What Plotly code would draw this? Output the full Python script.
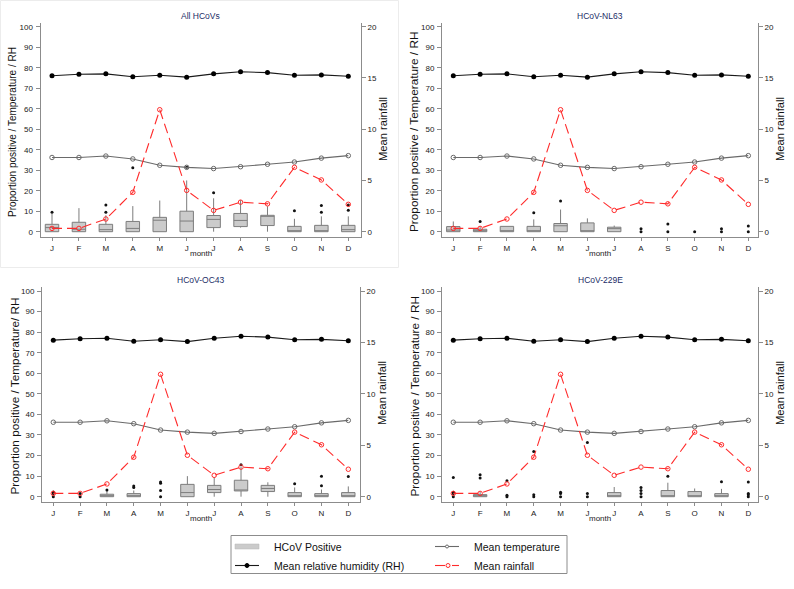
import plotly.graph_objects as go

W, H = 794, 589

# ---------------- data ----------------
month_labels = ["J", "F", "M", "A", "M", "J", "J", "A", "S", "O", "N", "D"]
month_num = list(range(1, 13))

rh = [76.1, 76.8, 77.0, 75.6, 76.3, 75.4, 77.0, 78.0, 77.6, 76.3, 76.5, 75.8]
temperature = [36.2, 36.2, 36.9, 35.5, 32.4, 31.4, 30.8, 31.7, 32.9, 34.0, 35.9, 37.1]
rainfall = [0.32, 0.32, 1.24, 3.84, 11.9, 4.03, 2.08, 2.88, 2.72, 6.28, 5.05, 2.67]

# All HCoVs
all_x = [1, 2, 3, 4, 5, 6, 7, 8, 9, 10, 11, 12]
all_q1 = [0, 0, 0, 0, 0, 0, 2, 2.5, 3, 0, 0, 0]
all_med = [2, 1.2, 1, 1.6, 5.6, 5.2, 6, 5.5, 7.5, 0, 0.5, 1]
all_q3 = [3.6, 4.6, 3.6, 5, 7, 10, 7.9, 8.9, 8, 2.6, 3.1, 3.1]
all_lo = [0, 0, 0, 0, 0, 0, 0, 2, 0, 0, 0, 0]
all_hi = [8.7, 11.5, 8, 12.5, 15.2, 25, 16.3, 15.4, 12.4, 6.3, 7.5, 7.5]
all_out_x = [1, 3, 3, 4, 6, 7, 10, 11, 11, 12, 12]
all_out_y = [9.5, 9.5, 13, 31.2, 31.5, 19, 10.2, 9.5, 12.8, 10.5, 13]

# HCoV-NL63
nl63_x = [1, 2, 3, 4, 5, 6, 7]
nl63_q1 = [0, 0, 0, 0, 0, 0, 0]
nl63_med = [0.8, 0, 0, 0, 2.9, 0, 1.5]
nl63_q3 = [2.5, 1.2, 2.6, 2.6, 4, 4.3, 2.2]
nl63_lo = [0, 0, 0, 0, 0, 0, 0]
nl63_hi = [5, 2.7, 2.6, 6, 10.8, 6.5, 3]
nl63_out_x = [2, 4, 5, 8, 8, 9, 9, 10, 11, 11, 12, 12]
nl63_out_y = [5, 9.3, 15, 0, 1.5, 0, 3.7, 0, 0, 1.5, 0, 2.8]

# HCoV-OC43
oc43_x = [3, 4, 6, 7, 8, 9, 10, 11, 12]
oc43_q1 = [0, 0, 0, 2, 2.8, 2.5, 0, 0, 0]
oc43_med = [0.5, 0.5, 2, 3.5, 3, 4, 0, 0, 0.3]
oc43_q3 = [1.2, 1.5, 6, 5.5, 8, 5.5, 2, 1.5, 2]
oc43_lo = [0, 0, 0, 0, 0, 0, 0, 0, 0]
oc43_hi = [3, 3, 10, 9.5, 14.5, 7, 4.5, 3.5, 5]
oc43_out_x = [1, 1, 1, 2, 2, 3, 4, 4, 5, 5, 5, 5, 8, 10, 11, 11, 12]
oc43_out_y = [0, 1.5, 2.3, 0, 1.5, 3.3, 4.5, 5.2, 0, 3, 6.5, 7.2, 15.5, 6.3, 5.3, 9.9, 9.8]

# HCoV-229E
e229_x = [2, 7, 9, 10, 11]
e229_q1 = [0, 0, 0, 0, 0]
e229_med = [0.3, 0, 0, 0, 0]
e229_q3 = [1, 2, 3, 2.5, 1.5]
e229_lo = [0, 0, 0, 0, 0]
e229_hi = [2.5, 4.7, 6.8, 4, 3.8]
e229_out_x = [1, 1, 1, 1, 2, 2, 3, 3, 3, 4, 4, 4, 5, 5, 5, 6, 6, 6, 8, 8, 8, 8, 9, 11, 12, 12, 12, 12]
e229_out_y = [0, 1.5, 2.2, 9.3, 9.1, 10.7, 0, 0.7, 7.8, 0, 1, 22, 0, 1.5, 2.2, 0, 1.5, 26.4,
              0, 1.5, 3, 4.5, 10, 7.3, 0, 1, 1.5, 7.1]

panel_titles = ["All HCoVs", "HCoV-NL63", "HCoV-OC43", "HCoV-229E"]
left_titles = ["Proportion positive / Temperature / RH",
               "Proportion positive / Temperature / RH",
               "Proportion positive / Temperature/ RH",
               "Proportion positive / Temperature / RH"]
right_title = "Mean rainfall"
x_title = "month"
legend_labels = ["HCoV Positive", "Mean relative humidity (RH)", "Mean temperature", "Mean rainfall"]

boxes = [
    (all_x, all_q1, all_med, all_q3, all_lo, all_hi, all_out_x, all_out_y),
    (nl63_x, nl63_q1, nl63_med, nl63_q3, nl63_lo, nl63_hi, nl63_out_x, nl63_out_y),
    (oc43_x, oc43_q1, oc43_med, oc43_q3, oc43_lo, oc43_hi, oc43_out_x, oc43_out_y),
    (e229_x, e229_q1, e229_med, e229_q3, e229_lo, e229_hi, e229_out_x, e229_out_y),
]

# ---------------- layout geometry (pixels) ----------------
# (left axis px, right axis px, J px, D px, top px, bottom px, y0 px, y100 px)
geom = [
    (40.5, 361, 52, 348.3, 23, 237, 231.7, 26.7),
    (442, 758, 453.3, 748.3, 23, 237, 231.7, 26.7),
    (42, 360, 53.3, 348.3, 287, 502, 496.7, 291.0),
    (442, 758, 453.3, 748.3, 287, 502, 496.7, 291.0),
]

FONT = "Liberation Sans, Arial, sans-serif"
TICKC = "#222222"
AXC = "#8c8c8c"
TICKSIZE = 8

def px(x):
    return x / W

def py(y):
    return 1 - y / H

fig = go.Figure()
layout = dict(
    width=W, height=H, margin=dict(l=0, r=0, t=0, b=0),
    paper_bgcolor="white", plot_bgcolor="white", showlegend=False,
    font=dict(family=FONT, color=TICKC, size=TICKSIZE),
)
annotations = []
shapes = []

for k in range(4):
    L, R, Jp, Dp, T, B, y0p, y100p = geom[k]
    step = (Dp - Jp) / 11
    xr = [1 - (Jp - L) / step, 12 + (R - Dp) / step]
    ppu = (y0p - y100p) / 100
    yr = [-(B - y0p) / ppu, 100 + (y100p - T) / ppu]
    yr2 = [yr[0] / 5, yr[1] / 5]

    xa = "x" if k == 0 else f"x{k+1}"
    ya = "y" if k == 0 else f"y{2*k+1}"
    yb = f"y{2*k+2}"
    xkey = "xaxis" if k == 0 else f"xaxis{k+1}"
    ykey = "yaxis" if k == 0 else f"yaxis{2*k+1}"
    ykey2 = f"yaxis{2*k+2}"

    layout[xkey] = dict(
        domain=[px(L), px(R)], range=xr, anchor=ya,
        tickmode="array", tickvals=month_num, ticktext=month_labels,
        showline=True, linecolor=AXC, linewidth=1, ticks="outside", ticklen=3,
        tickcolor=AXC, showgrid=False, zeroline=False, fixedrange=True,
        tickfont=dict(size=TICKSIZE, color=TICKC, family=FONT),
    )
    layout[ykey] = dict(
        domain=[py(B), py(T)], range=yr, anchor=xa, side="left",
        tickmode="array", tickvals=list(range(0, 101, 10)),
        showline=True, linecolor=AXC, linewidth=1, ticks="outside", ticklen=4,
        tickcolor=AXC, showgrid=False, zeroline=False, fixedrange=True,
        ticklabelstandoff=1,
        tickfont=dict(size=TICKSIZE, color=TICKC, family=FONT),
    )
    layout[ykey2] = dict(
        overlaying=ya, side="right", anchor=xa, range=yr2,
        tickmode="array", tickvals=[0, 5, 10, 15, 20],
        showline=True, linecolor=AXC, linewidth=1, ticks="outside", ticklen=4,
        tickcolor=AXC, showgrid=False, zeroline=False, fixedrange=True,
        ticklabelstandoff=0,
        tickfont=dict(size=TICKSIZE, color=TICKC, family=FONT),
    )

    bx, q1, med, q3, lo, hi, ox, oy = boxes[k]
    fig.add_trace(go.Box(
        x=bx, q1=q1, median=med, q3=q3, lowerfence=lo, upperfence=hi,
        width=0.5, whiskerwidth=0, boxpoints=False,
        fillcolor="#cbcbcb", line=dict(color="#7d7d7d", width=1),
        xaxis=xa, yaxis=ya,
    ))
    fig.add_trace(go.Scatter(
        x=ox, y=oy, mode="markers",
        marker=dict(color="#111111", size=3, line=dict(width=0)),
        xaxis=xa, yaxis=ya,
    ))
    fig.add_trace(go.Scatter(
        x=month_num, y=temperature, mode="lines+markers",
        line=dict(color="#6a6a6a", width=1.1),
        marker=dict(symbol="circle-open", color="#6a6a6a", size=4.5, line=dict(width=1)),
        xaxis=xa, yaxis=ya,
    ))
    fig.add_trace(go.Scatter(
        x=month_num, y=rh, mode="lines+markers",
        line=dict(color="#1a1a1a", width=1.1),
        marker=dict(symbol="circle", color="#000000", size=5),
        xaxis=xa, yaxis=ya,
    ))
    fig.add_trace(go.Scatter(
        x=month_num, y=rainfall, mode="lines+markers",
        line=dict(color="#ff2b2b", width=1.1, dash="10px,5px"),
        marker=dict(symbol="circle-open", color="#ff2b2b", size=4.5, line=dict(width=1)),
        xaxis=xa, yaxis=yb,
    ))

    cx = (L + R) / 2
    title_y = 16 if k < 2 else 280
    annotations.append(dict(
        text=panel_titles[k], x=px(cx), y=py(title_y), xref="paper", yref="paper",
        showarrow=False, xanchor="center", yanchor="middle",
        font=dict(size=8.5, color="#1c2c66", family=FONT),
    ))
    annotations.append(dict(
        text=x_title, x=px(cx), y=py(B + 16.5), xref="paper", yref="paper",
        showarrow=False, xanchor="center", yanchor="middle",
        font=dict(size=8, color=TICKC, family=FONT),
    ))
    lt_size = 10 if k == 0 else 11.8
    lt_x = L - 28.5 if k == 0 else L - 28
    annotations.append(dict(
        text=left_titles[k], x=px(lt_x), y=py((T + B) / 2 + 2), xref="paper", yref="paper",
        showarrow=False, textangle=-90, xanchor="center", yanchor="middle",
        font=dict(size=lt_size, color="#111111", family=FONT),
    ))
    annotations.append(dict(
        text=right_title, x=px(R + 22), y=py(129 if k < 2 else 393), xref="paper", yref="paper",
        showarrow=False, textangle=-90, xanchor="center", yanchor="middle",
        font=dict(size=11.2, color="#111111", family=FONT),
    ))

# faint frame around the first panel
shapes.append(dict(type="rect", xref="paper", yref="paper",
                   x0=px(0.5), x1=px(398.5), y0=py(267.5), y1=py(0.5),
                   line=dict(color="#ececec", width=1)))

# ---------------- legend ----------------
shapes.append(dict(type="rect", xref="paper", yref="paper",
                   x0=px(231), x1=px(567), y0=py(573.5), y1=py(535.5),
                   line=dict(color="#8c8c8c", width=1), fillcolor="white"))
r1, r2 = 546.5, 565.5
# box icon
shapes.append(dict(type="rect", xref="paper", yref="paper",
                   x0=px(235), x1=px(259), y0=py(r1 + 2.5), y1=py(r1 - 2.5),
                   line=dict(color="#b5b5b5", width=0.5), fillcolor="#cbcbcb"))
# RH icon
shapes.append(dict(type="line", xref="paper", yref="paper",
                   x0=px(235), x1=px(259), y0=py(r2), y1=py(r2),
                   line=dict(color="#1a1a1a", width=1.1)))
shapes.append(dict(type="circle", xref="paper", yref="paper",
                   x0=px(245), x1=px(249), y0=py(r2 + 2), y1=py(r2 - 2),
                   line=dict(color="#000000", width=1), fillcolor="#000000"))
# temperature icon
shapes.append(dict(type="line", xref="paper", yref="paper",
                   x0=px(435), x1=px(459), y0=py(r1), y1=py(r1),
                   line=dict(color="#6a6a6a", width=1.1)))
shapes.append(dict(type="circle", xref="paper", yref="paper",
                   x0=px(445.5), x1=px(448.5), y0=py(r1 + 1.5), y1=py(r1 - 1.5),
                   line=dict(color="#6a6a6a", width=1), fillcolor="white"))
# rainfall icon
shapes.append(dict(type="line", xref="paper", yref="paper",
                   x0=px(435), x1=px(445), y0=py(r2), y1=py(r2),
                   line=dict(color="#ff2b2b", width=1.1)))
shapes.append(dict(type="line", xref="paper", yref="paper",
                   x0=px(452), x1=px(459), y0=py(r2), y1=py(r2),
                   line=dict(color="#ff2b2b", width=1.1)))
shapes.append(dict(type="circle", xref="paper", yref="paper",
                   x0=px(446), x1=px(450), y0=py(r2 + 2), y1=py(r2 - 2),
                   line=dict(color="#ff2b2b", width=1), fillcolor="white"))

legend_pos = [(272, r1), (272, r2), (472, r1), (472, r2)]
for (lx, ly), lab in zip(legend_pos, legend_labels):
    annotations.append(dict(
        text=lab, x=px(lx), y=py(ly), xref="paper", yref="paper",
        showarrow=False, xanchor="left", yanchor="middle",
        font=dict(size=10.5, color="#111111", family=FONT),
    ))

layout["annotations"] = annotations
layout["shapes"] = shapes
fig.update_layout(**layout)

fig.write_html(
    "out.html",
    config={"displayModeBar": False},
    post_script="document.body.style.margin='0px';document.body.style.overflow='hidden';",
)
